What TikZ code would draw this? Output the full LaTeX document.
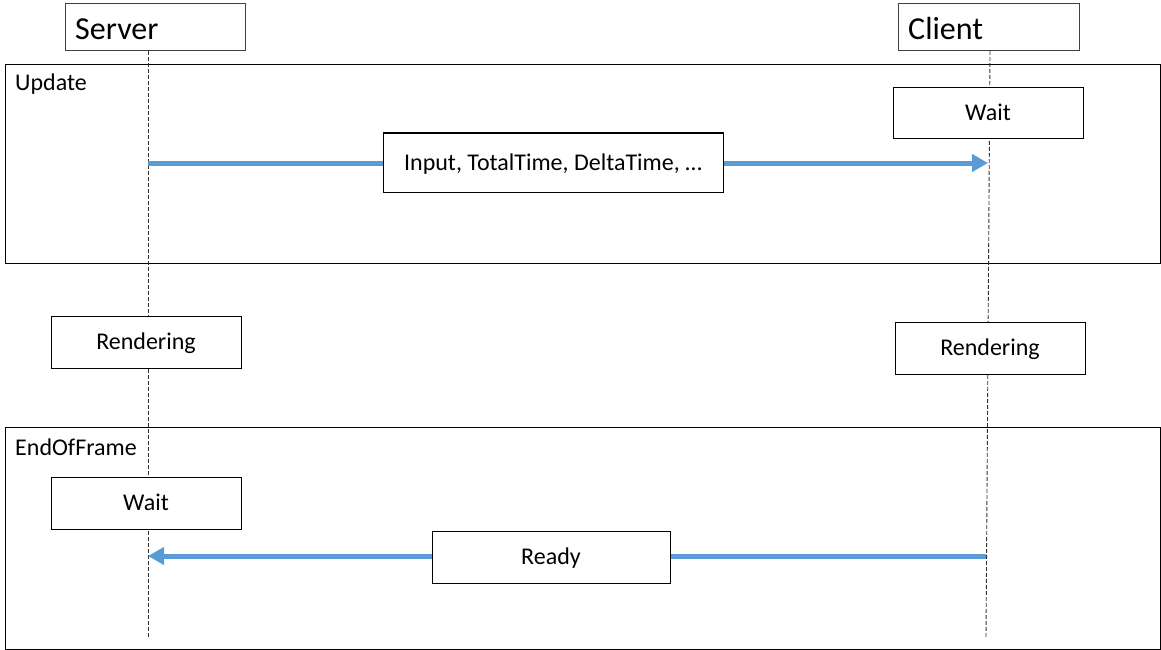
\documentclass[tikz,border=0pt]{standalone}
\usepackage{fontspec}
\setmainfont{Carlito}
\usetikzlibrary{arrows.meta}
\definecolor{msgblue}{HTML}{5B9BD5}
\tikzset{
  box/.style={draw=black, fill=white, line width=1pt, inner sep=0pt, text height=15.5pt, text depth=0pt, font=\fontsize{24}{28}\selectfont},
  head/.style={draw=black!75, fill=white, line width=1pt, inner sep=0pt},
  headtext/.style={anchor=west, inner sep=0pt, font=\fontsize{32}{36}\selectfont},
  frame/.style={draw=black, line width=1pt},
  life/.style={draw=black!80, line width=0.9pt, dash pattern=on 4pt off 2pt},
  msg/.style={draw=msgblue, line width=5pt, -{Triangle[length=16pt,width=17pt]}},
  flabel/.style={anchor=west, inner sep=0pt, font=\fontsize{24}{28}\selectfont},
}
\begin{document}
\begin{tikzpicture}[x=1pt,y=-1pt]
\useasboundingbox (0,0) rectangle (1161,650);
% frames
\draw[frame] (5,65) rectangle (1160,263);
\draw[frame] (5,427) rectangle (1160,649);
\node[flabel] (lupd) at (15,84) {Update};
\node[flabel] (leof) at (15,447) {EndOfFrame};
% heads
\node[head, minimum width=180pt, minimum height=47pt] (server) at (155,27.5) {};
\node[headtext] (servert) at (75,29) {Server};
\node[head, minimum width=181pt, minimum height=47pt] (client) at (988.5,27.5) {};
\node[headtext] (clientt) at (908,29) {Client};
% lifelines
\coordinate (stop) at (148,51);
\coordinate (sbot) at (148,637);
\coordinate (ctop) at (990,51);
\coordinate (cbot) at (986,637);
\draw[life] (stop) -- (sbot);
\draw[life] (ctop) -- (cbot);
% messages
\coordinate (m1s) at (148,163);
\coordinate (m1e) at (988,163);
\coordinate (m2s) at (986,556);
\coordinate (m2e) at (148,556);
\draw[msg] (m1s) -- (m1e);
\draw[msg] (m2s) -- (m2e);
% boxes
\node[box, minimum width=190pt, minimum height=50pt] (cwait) at (988,113) {Wait};
\node[box, minimum width=340pt, minimum height=59pt] (input) at (553,162.5) {Input, TotalTime, DeltaTime, \dots};
\node[box, minimum width=190pt, minimum height=52pt] (srend) at (146,342) {Rendering};
\node[box, minimum width=190pt, minimum height=52pt] (crend) at (990,348) {Rendering};
\node[box, minimum width=190pt, minimum height=52pt] (swait) at (146,503) {Wait};
\node[box, minimum width=238pt, minimum height=52pt] (ready) at (551,557) {Ready};
\end{tikzpicture}
\end{document}
